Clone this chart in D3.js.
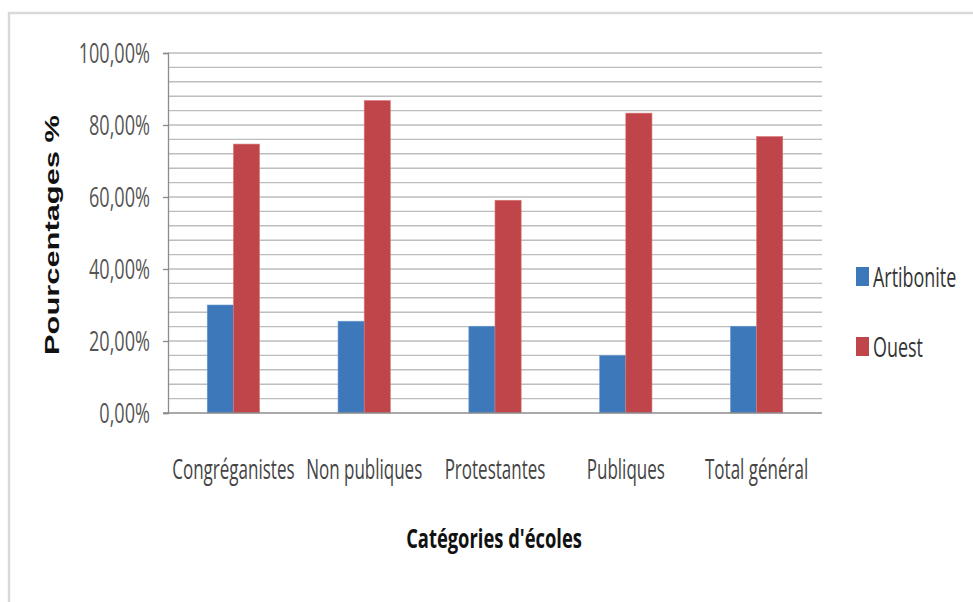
<!DOCTYPE html>
<html><head><meta charset="utf-8">
<script src="https://cdn.jsdelivr.net/npm/d3@7"></script>
<style>html,body{margin:0;padding:0;background:#fff;overflow:hidden}</style>
</head><body>
<svg id="c" width="973" height="602"></svg>
<script>
const categories = ["Congréganistes", "Non publiques", "Protestantes", "Publiques", "Total général"];
const seriesNames = ["Artibonite", "Ouest"];
const artibonite = [30.0, 25.5, 24.1, 16.0, 24.1];
const ouest = [74.7, 86.8, 59.1, 83.3, 76.8];
const yTicks = [0, 20, 40, 60, 80, 100];
const colors = ["#3d79ba", "#c0454a"];

const svg = d3.select("#c");
const font = "'Open Sans', 'Liberation Sans', sans-serif";
const m = {left: 168, right: 822, top: 53, bottom: 413};

// outer frame
svg.append("rect").attr("x", 9).attr("y", 13).attr("width", 1000).attr("height", 700)
  .attr("fill", "none").attr("stroke", "#d9d9d9").attr("stroke-width", 2.5);

const x = d3.scaleBand().domain(categories).range([m.left, m.right]).paddingInner(0.6).paddingOuter(0.3);
const y = d3.scaleLinear().domain([0, 100]).range([m.bottom, m.top]);
const x1 = d3.scaleBand().domain(seriesNames).range([0, x.bandwidth()]);

// gridlines every 4%
const grid = d3.range(4, 101, 4);
svg.append("g").selectAll("line").data(grid).join("line")
  .attr("x1", m.left).attr("x2", m.right)
  .attr("y1", d => y(d)).attr("y2", d => y(d))
  .attr("stroke", "#bdbdbd").attr("stroke-width", 1.4);

// bars
const data = categories.map((c, i) => ({c, vals: [artibonite[i], ouest[i]]}));
const g = svg.append("g").selectAll("g").data(data).join("g")
  .attr("transform", d => `translate(${x(d.c)},0)`);
g.selectAll("rect").data(d => d.vals.map((v, j) => ({v, s: seriesNames[j], j})))
  .join("rect")
  .attr("x", d => x1(d.s)).attr("width", x1.bandwidth())
  .attr("y", d => y(d.v)).attr("height", d => y(0) - y(d.v))
  .attr("fill", d => colors[d.j])
  .attr("stroke", d => d.j === 0 ? "#6f9bd0" : "#d67b7b").attr("stroke-width", 0.6);

// y axis
const yAxis = d3.axisLeft(y).tickValues(yTicks).tickSize(5).tickPadding(13)
  .tickFormat(d => d3.format(".2f")(d).replace(".", ",") + "%");
const ya = svg.append("g").attr("transform", `translate(${m.left},0)`).call(yAxis);
ya.select(".domain").attr("stroke", "#8c8c8c").attr("stroke-width", 1.3);
ya.selectAll(".tick line").attr("stroke", "#8c8c8c").attr("stroke-width", 1.3);
ya.selectAll("text").attr("font-family", font).attr("font-size", 27).attr("fill", "#555")
  .attr("dy", "0.36em").attr("x", 0).attr("transform", "translate(-18,0) scale(0.67,1)");

// x axis line
svg.append("line").attr("x1", m.left - 5).attr("x2", m.right).attr("y1", y(0)).attr("y2", y(0))
  .attr("stroke", "#8c8c8c").attr("stroke-width", 1.3);

// category labels
svg.append("g").selectAll("text").data(categories).join("text")
  .attr("transform", d => `translate(${x(d) + x.bandwidth() / 2},479) scale(0.63,1)`)
  .attr("text-anchor", "middle").attr("font-family", font).attr("font-size", 27).attr("fill", "#444")
  .text(d => d);

// axis titles
svg.append("text").attr("transform", "translate(494,548) scale(0.68,1)").attr("text-anchor", "middle")
  .attr("font-family", font).attr("font-weight", "bold").attr("font-size", 27).attr("fill", "#111")
  .text("Catégories d'écoles");

const yt = svg.append("text").attr("transform", "translate(59,235) rotate(-90)")
  .attr("text-anchor", "middle").attr("font-family", "'Liberation Sans', Arial, sans-serif")
  .attr("font-weight", "bold").attr("font-size", 21).attr("fill", "#111")
  .text("Pourcentages %");
yt.attr("textLength", 240).attr("lengthAdjust", "spacingAndGlyphs");

// legend
const leg = svg.append("g").selectAll("g").data(seriesNames).join("g")
  .attr("transform", (d, i) => `translate(856,${267 + i * 70})`);
leg.append("rect").attr("width", 13).attr("height", 19).attr("fill", (d, i) => colors[i]);
leg.append("text").attr("transform", "translate(17,20) scale(0.64,1)")
  .attr("font-family", font).attr("font-size", 28).attr("fill", "#333").text(d => d);
</script>
</body></html>
